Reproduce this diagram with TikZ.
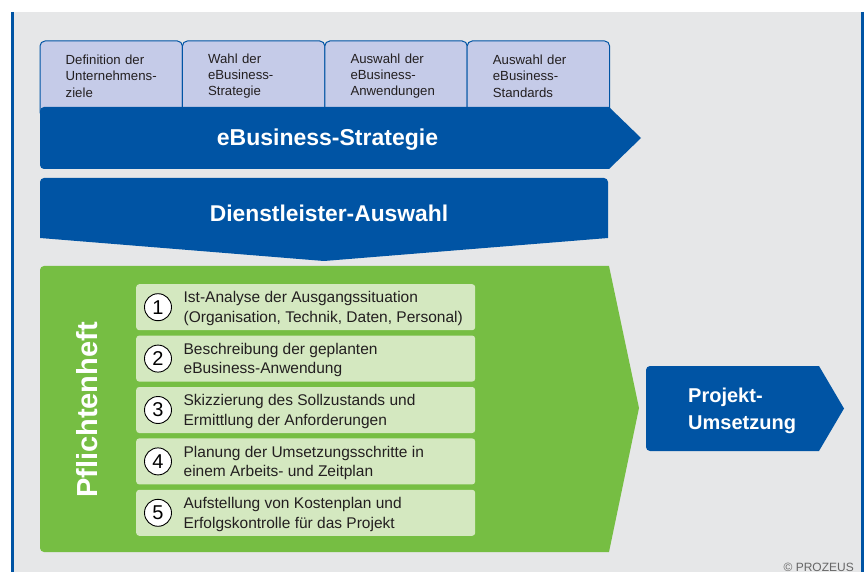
\documentclass[tikz,border=0pt]{standalone}
\usepackage{fontspec}
\setmainfont{Liberation Sans}
\usetikzlibrary{positioning, backgrounds}
\hyphenpenalty=10000
\exhyphenpenalty=10000

\definecolor{pzblue}{HTML}{0054A4}
\definecolor{pzgreen}{HTML}{76BE43}
\definecolor{pzlightgreen}{HTML}{D4E8C0}
\definecolor{pztab}{HTML}{C5CBE8}
\definecolor{pzgrey}{HTML}{E6E7E8}
\definecolor{pztext}{HTML}{231F20}

\begin{document}
\begin{tikzpicture}[
    x=1pt, y=-1pt,
    tabcard/.style={rectangle, anchor=north west, text width=91pt, inner xsep=25.5pt, inner ysep=0pt, minimum height=66pt, align=left, text=pztext, font=\fontsize{13.2}{16.2}\selectfont},
    tabline/.style={draw=pzblue, line width=1pt, fill=pztab, rounded corners=5pt},
    bigtext/.style={text=white, inner sep=0pt, font=\fontsize{22.8}{26}\selectfont\bfseries},
    itembox/.style={rectangle, anchor=north west, fill=pzlightgreen, rounded corners=3pt, minimum width=339pt, minimum height=46pt, inner sep=0pt},
    itemtext/.style={anchor=west, inner sep=0pt, align=left, text=pztext, font=\fontsize{15.5}{19.5}\selectfont},
    numcircle/.style={circle, draw=black, line width=0.9pt, fill=white, minimum size=27pt, inner sep=0pt, font=\fontsize{20}{20}\selectfont}
]
    \useasboundingbox (0,0) rectangle (868,572);

    % --- TABS: steps of the strategy ---
    \node [tabcard] (tab1) at (40,43) {Definition der\\Unternehmens-\\ziele};
    \node [tabcard, right=0pt of tab1] (tab2) {Wahl der\\eBusiness-\\Strategie};
    \node [tabcard, right=0pt of tab2] (tab3) {Auswahl der\\eBusiness-\\Anwendungen};
    \node [tabcard, right=0pt of tab3] (tab4) {Auswahl der\\eBusiness-\\Standards};

    \begin{scope}[on background layer]
        \fill [white] (0,0) rectangle (868,572);
        \fill [pzgrey] (12,12) rectangle (861,572);
        \draw [tabline] ([yshift=2pt]tab1.north west) rectangle ([yshift=-8pt]tab1.south east);
        \draw [tabline] ([yshift=2pt]tab2.north west) rectangle ([yshift=-8pt]tab2.south east);
        \draw [tabline] ([yshift=2pt]tab3.north west) rectangle ([yshift=-8pt]tab3.south east);
        \draw [tabline] ([yshift=2pt]tab4.north west) rectangle ([yshift=-8pt]tab4.south east);
    \end{scope}

    % frame lines
    \draw [pzblue, line width=2.5pt] (12.5,12) -- (12.5,572);
    \draw [pzblue, line width=2.5pt] (862.5,12) -- (862.5,572);

    % --- BLUE ARROWS ---
    \fill [pzblue] (324,169) [rounded corners=4pt] -- (40,169) -- (40,107) -- (324,107) [sharp corners] -- (609,107) -- (641,138) -- (609,169) -- cycle;
    \node [bigtext, anchor=base, font=\fontsize{23}{26}\selectfont\bfseries] (strategy) at (327.5,145.5) {eBusiness-Strategie};

    \fill [pzblue] (40,208) [rounded corners=4pt] -- (40,178) -- (608,178) -- (608,208) [sharp corners] -- (608,238) -- (324,261) -- (40,238) -- cycle;
    \node [bigtext, anchor=base] (provider) at (329,221.5) {Dienstleister-Auswahl};

    % --- PFLICHTENHEFT ---
    \fill [pzgreen] (324,552) [rounded corners=4pt] -- (40,552) -- (40,266) -- (324,266) [sharp corners] -- (609,266) -- (639,408) -- (609,552) -- cycle;
    \node [rotate=90, anchor=base, inner sep=0pt, text=white, font=\fontsize{29}{29}\selectfont\bfseries] (spec) at (97,410) {Pflichtenheft};

    \node [itembox] (item1) at (136,284) {};
    \node [itembox, below=5pt of item1] (item2) {};
    \node [itembox, below=5pt of item2] (item3) {};
    \node [itembox, below=5pt of item3] (item4) {};
    \node [itembox, below=5pt of item4] (item5) {};

    \node [numcircle] (num1) at ([xshift=22pt]item1.west) {1};
    \node [numcircle] (num2) at ([xshift=22pt]item2.west) {2};
    \node [numcircle] (num3) at ([xshift=22pt]item3.west) {3};
    \node [numcircle] (num4) at ([xshift=22pt]item4.west) {4};
    \node [numcircle] (num5) at ([xshift=22pt]item5.west) {5};

    \node [itemtext, right=11.5pt of num1, yshift=-1.5pt] (text1) {Ist-Analyse der Ausgangssituation\\(Organisation, Technik, Daten, Personal)};
    \node [itemtext, right=11.5pt of num2, yshift=-1.5pt] (text2) {Beschreibung der geplanten\\eBusiness-Anwendung};
    \node [itemtext, right=11.5pt of num3, yshift=-1.5pt] (text3) {Skizzierung des Sollzustands und\\Ermittlung der Anforderungen};
    \node [itemtext, right=11.5pt of num4, yshift=-1.5pt] (text4) {Planung der Umsetzungsschritte in\\einem Arbeits- und Zeitplan};
    \node [itemtext, right=11.5pt of num5, yshift=-1.5pt] (text5) {Aufstellung von Kostenplan und\\Erfolgskontrolle für das Projekt};

    % --- PROJEKT-UMSETZUNG ---
    \fill [pzblue] (732,451) [rounded corners=4pt] -- (646,451) -- (646,366) -- (732,366) [sharp corners] -- (819,366) -- (844,408.5) -- (819,451) -- cycle;
    \node [bigtext, anchor=west, align=left, font=\fontsize{20}{26.5}\selectfont\bfseries] (project) at (688,411) {Projekt-\\Umsetzung};

    \node [anchor=base east, inner sep=0pt, text=black!60, font=\fontsize{12}{12}\selectfont] (copyright) at (854,571) {© PROZEUS};

\end{tikzpicture}
\end{document}
